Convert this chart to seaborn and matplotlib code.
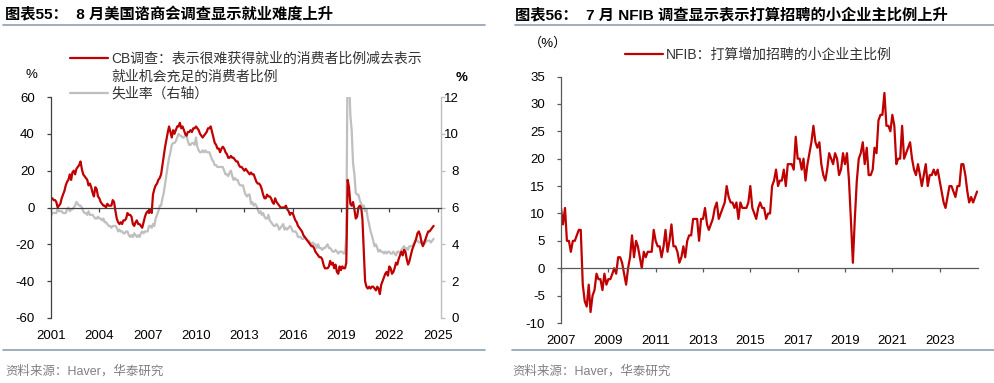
import numpy as np
import pandas as pd
import matplotlib
matplotlib.use("Agg")
import matplotlib.pyplot as plt
import matplotlib.dates as mdates
from matplotlib.lines import Line2D
import seaborn as sns

# ---------------- data ----------------
# Left chart: Conference Board labor differential (hard to get - plentiful), monthly from Nov 2001
cb_start = "2001-11-01"
cb_diff = [
    5, 5, 4, 4, 3, 0, 1, 2, 5, 7, 9, 12,
    14, 15, 18, 15, 19, 20, 18, 21, 22, 23, 25, 21,
    18, 17, 16, 15, 12, 13, 11, 8, 6, 11, 10, 6,
    5, 3, 2, 1, 1, 0, 2, 1, 1, 1, 4, 3,
    -2, -6, -8, -9, -8, -9, -7, -7, -6, -3, -4, -4,
    -5, -9, -10, -8, -7, -9, -9, -10, -11, -8, -5, -3,
    -2, -3, -1, -3, 7, 10, 12, 13, 15, 16, 18, 23,
    28, 33, 37, 41, 44, 41, 38, 42, 40, 42, 44, 44,
    46, 43, 44, 42, 40, 39, 41, 41, 42, 41, 43, 43,
    44, 43, 42, 40, 39, 38, 39, 40, 41, 43, 43, 44,
    41, 38, 35, 34, 32, 32, 30, 32, 33, 32, 30, 29,
    27, 27, 28, 27, 27, 26, 25, 25, 23, 22, 22, 21,
    20, 21, 20, 19, 18, 19, 18, 18, 16, 14, 13, 13,
    12, 10, 7, 5, 5, 7, 6, 6, 5, 3, 2, 5,
    3, 2, 1, 0, 0, 0, 0, 1, -1, -2, -4, -3,
    -3, -5, -7, -8, -10, -11, -12, -13, -15, -16, -17, -18,
    -19, -20, -21, -21, -22, -24, -25, -26, -27, -27, -28, -31,
    -33, -33, -33, -32, -29, -31, -30, -33, -31, -35, -36, -32,
    -34, -32, -33, -33, -30, 15, 11, 2, 1, 3, -1, -6,
    -5, 0, 1, 0, -6, -24, -40, -43, -44, -43, -44, -43,
    -43, -44, -45, -43, -44, -47, -42, -40, -38, -36, -35, -37,
    -32, -33, -36, -35, -33, -30, -31, -28, -26, -24, -26, -23,
    -24, -28, -31, -29, -26, -23, -21, -19, -17, -14, -13, -15,
    -19, -21, -19, -17, -15, -13, -13, -12, -11, -10,
]
# US unemployment rate (%), monthly from Nov 2001 (right axis)
unemp_rate = [
    5.5, 5.7,
    5.7, 5.7, 5.7, 5.9, 5.8, 5.8, 5.8, 5.7, 5.7, 5.7, 5.9, 6.0,
    5.8, 5.9, 5.9, 6.0, 6.1, 6.3, 6.2, 6.1, 6.1, 6.0, 5.8, 5.7,
    5.7, 5.6, 5.8, 5.6, 5.6, 5.6, 5.5, 5.4, 5.4, 5.5, 5.4, 5.4,
    5.3, 5.4, 5.2, 5.2, 5.1, 5.0, 5.0, 4.9, 5.0, 5.0, 5.0, 4.9,
    4.7, 4.8, 4.7, 4.7, 4.6, 4.6, 4.7, 4.7, 4.5, 4.4, 4.5, 4.4,
    4.6, 4.5, 4.4, 4.5, 4.4, 4.6, 4.7, 4.6, 4.7, 4.7, 4.7, 5.0,
    5.0, 4.9, 5.1, 5.0, 5.4, 5.6, 5.8, 6.1, 6.1, 6.5, 6.8, 7.3,
    7.8, 8.3, 8.7, 9.0, 9.4, 9.5, 9.5, 9.6, 9.8, 10.0, 9.9, 9.9,
    9.8, 9.8, 9.9, 9.9, 9.6, 9.4, 9.4, 9.5, 9.5, 9.4, 9.8, 9.3,
    9.1, 9.0, 9.0, 9.1, 9.0, 9.1, 9.0, 9.0, 9.0, 8.8, 8.6, 8.5,
    8.3, 8.3, 8.2, 8.2, 8.2, 8.2, 8.2, 8.0, 7.8, 7.8, 7.7, 7.9,
    8.0, 7.7, 7.5, 7.6, 7.5, 7.5, 7.3, 7.2, 7.2, 7.2, 6.9, 6.7,
    6.6, 6.7, 6.7, 6.2, 6.3, 6.1, 6.2, 6.1, 5.9, 5.7, 5.8, 5.6,
    5.7, 5.5, 5.4, 5.4, 5.6, 5.3, 5.2, 5.1, 5.0, 5.0, 5.1, 5.0,
    4.8, 4.9, 5.0, 5.1, 4.8, 4.9, 4.8, 4.9, 5.0, 4.9, 4.7, 4.7,
    4.7, 4.6, 4.4, 4.4, 4.4, 4.3, 4.3, 4.4, 4.3, 4.2, 4.2, 4.1,
    4.0, 4.1, 4.0, 4.0, 3.8, 4.0, 3.8, 3.8, 3.7, 3.8, 3.8, 3.9,
    4.0, 3.8, 3.8, 3.7, 3.6, 3.6, 3.7, 3.6, 3.5, 3.6, 3.6, 3.6,
    3.5, 3.5, 4.4, 14.8, 13.2, 11.0, 10.2, 8.4, 7.8, 6.8, 6.7, 6.7,
    6.4, 6.2, 6.1, 6.1, 5.8, 5.9, 5.4, 5.1, 4.7, 4.5, 4.2, 3.9,
    4.0, 3.8, 3.6, 3.7, 3.6, 3.6, 3.5, 3.6, 3.5, 3.6, 3.6, 3.5,
    3.5, 3.6, 3.5, 3.4, 3.6, 3.6, 3.5, 3.7, 3.8, 3.9, 3.7, 3.8,
    3.7, 3.9, 3.9, 3.9, 4.0, 4.1, 4.2, 4.2, 4.1, 4.1, 4.2, 4.1,
    4.0, 4.1, 4.2, 4.2, 4.2, 4.1, 4.2, 4.3,
]
left_tick_labels = ["2001", "2004", "2007", "2010", "2013", "2016", "2019", "2022", "2025"]
left_yticks = [-60, -40, -20, 0, 20, 40, 60]
left_y2ticks = [0, 2, 4, 6, 8, 10, 12]

# Right chart: NFIB share of small firms planning to increase hiring, monthly from Dec 2007
nfib_start = "2007-12-01"
nfib_hiring = [
    11, 8, 11, 5, 5, 3, 5, 5, 6, 7, 7, -3,
    -6, -7, -3, -8, -5, -4, -1, -2, -2, -4, -1, -3,
    -2, -2, -1, 0, -1, 2, 2, 1, -1, -3, 0, 2,
    6, 2, 5, 4, 2, 0, 3, 2, 3, 3, 3, 7,
    5, 4, 4, 2, 4, 7, 3, 5, 8, 4, 4, 3,
    1, 2, 4, 2, 5, 6, 6, 9, 9, 9, 5, 9,
    9, 11, 8, 7, 8, 9, 11, 12, 9, 10, 11, 12,
    15, 13, 12, 12, 11, 12, 9, 12, 11, 11, 11, 12,
    15, 11, 10, 9, 11, 12, 11, 11, 9, 10, 10, 15,
    16, 18, 15, 16, 16, 18, 15, 19, 19, 19, 18, 24,
    20, 20, 18, 20, 16, 19, 21, 23, 26, 23, 22, 23,
    19, 17, 16, 18, 21, 20, 19, 21, 20, 17, 18, 21,
    19, 21, 16, 9, 1, 9, 16, 20, 21, 23, 19, 22,
    17, 17, 18, 22, 21, 27, 28, 28, 32, 26, 26, 25,
    28, 26, 19, 20, 20, 26, 20, 21, 22, 23, 20, 18,
    17, 19, 17, 15, 17, 19, 15, 17, 17, 18, 17, 18,
    16, 14, 12, 11, 13, 15, 15, 14, 13, 15, 15, 19,
    19, 17, 14, 12, 13, 12, 13, 14,
]
right_tick_labels = ["2007", "2009", "2011", "2013", "2015", "2017", "2019", "2021", "2023"]
right_yticks = [-10, -5, 0, 5, 10, 15, 20, 25, 30, 35]

title_left = "图表55：  8 月美国谘商会调查显示就业难度上升"
title_right = "图表56：  7 月 NFIB 调查显示表示打算招聘的小企业主比例上升"
legend_cb_1 = "CB调查：表示很难获得就业的消费者比例减去表示"
legend_cb_2 = "就业机会充足的消费者比例"
legend_unemp = "失业率（右轴）"
legend_nfib = "NFIB：打算增加招聘的小企业主比例"
source_text = "资料来源：Haver，华泰研究"

# ---------------- style ----------------
sns.set_theme(style="white")
plt.rcParams["font.family"] = ["Liberation Sans", "Noto Sans CJK SC", "DejaVu Sans"]
plt.rcParams["axes.unicode_minus"] = False

RED = "#C00000"
GRAY = "#BFBFBF"
DARK = "#404040"
SEP = "#8FA1B3"
W, H = 995, 383

fig = plt.figure(figsize=(W / 100, H / 100), dpi=100)
fig.patch.set_facecolor("white")

# ================= LEFT CHART =================
cb_dates = pd.date_range(cb_start, periods=len(cb_diff), freq="MS")
ax1 = fig.add_axes([51 / W, 1 - 318 / H, 390 / W, 221 / H])
ax1r = ax1.twinx()

sns.lineplot(x=cb_dates, y=unemp_rate, ax=ax1r, color=GRAY, linewidth=1.6)
sns.lineplot(x=cb_dates, y=cb_diff, ax=ax1, color=RED, linewidth=1.6)
ax1.set_zorder(ax1r.get_zorder() + 1)
ax1.patch.set_visible(False)

x0 = pd.Timestamp(cb_start)
ax1.set_xlim(mdates.date2num(x0), mdates.date2num(x0 + pd.DateOffset(months=290) + pd.Timedelta(days=15)))
ax1.set_ylim(-60, 60)
ax1r.set_ylim(0, 12)
ax1.set_yticks(left_yticks)
ax1r.set_yticks(left_y2ticks)
ax1.set_xlabel("")
ax1.set_ylabel("")
ax1r.set_ylabel("")

left_ticks = mdates.date2num(pd.date_range(cb_start, periods=len(left_tick_labels), freq="36MS"))
ax1.set_xticks(left_ticks)
ax1.spines["bottom"].set_position(("data", 0))
for s in ["top", "right"]:
    ax1.spines[s].set_visible(False)
for s in ["top", "bottom", "left"]:
    ax1r.spines[s].set_visible(False)
ax1.spines["left"].set_color(DARK)
ax1.spines["left"].set_linewidth(0.9)
ax1.spines["bottom"].set_color(DARK)
ax1.spines["bottom"].set_linewidth(0.9)
ax1r.spines["right"].set_color(GRAY)
ax1r.spines["right"].set_linewidth(1.0)

ax1.tick_params(axis="x", direction="out", length=3, width=0.9, color=DARK,
                bottom=True, labelbottom=False)
ax1.tick_params(axis="y", direction="out", length=3, width=0.9, color=DARK,
                left=True, labelsize=9.5, labelcolor="black", pad=8.6)
ax1r.tick_params(axis="y", direction="out", length=3, width=1.0, color=GRAY,
                 right=True, labelsize=9.5, labelcolor="black", pad=9.9)
for lab in ax1r.get_yticklabels():
    lab.set_horizontalalignment("right")

sec1 = ax1.secondary_xaxis("bottom")
sec1.set_xticks(left_ticks, labels=left_tick_labels)
sec1.tick_params(length=0, labelsize=9.5, labelcolor="black", pad=8.6)
sec1.spines["bottom"].set_visible(False)

ax1.legend(
    handles=[Line2D([], [], color=RED, lw=1.6), Line2D([], [], color="none"),
             Line2D([], [], color=GRAY, lw=1.6)],
    labels=[legend_cb_1, legend_cb_2, legend_unemp],
    loc="upper left", bbox_to_anchor=(70 / W, 1 - 52 / H), bbox_transform=fig.transFigure,
    frameon=False, fontsize=10, handlelength=2.75, handletextpad=0.2,
    labelspacing=0.25, borderpad=0, borderaxespad=0, labelcolor="#333333",
)

fig.text(31 / W, 1 - 75 / H, "%", ha="center", va="center", fontsize=9.5, color="black")
fig.text(462 / W, 1 - 78 / H, "%", ha="center", va="center", fontsize=9.5,
         fontweight="bold", color="black")

# ================= RIGHT CHART =================
nfib_dates = pd.date_range(nfib_start, periods=len(nfib_hiring), freq="MS")
ax2 = fig.add_axes([561 / W, 1 - 323 / H, 417.3 / W, 246.5 / H])
ax2.patch.set_visible(False)
sns.lineplot(x=nfib_dates, y=nfib_hiring, ax=ax2, color=RED, linewidth=1.6)
n0 = pd.Timestamp(nfib_start)
ax2.set_xlim(mdates.date2num(n0), mdates.date2num(n0 + pd.DateOffset(months=211) + pd.Timedelta(days=19)))
ax2.set_ylim(-10, 35)
ax2.set_yticks(right_yticks)
ax2.set_xlabel("")
ax2.set_ylabel("")
right_ticks = mdates.date2num(pd.date_range(nfib_start, periods=len(right_tick_labels), freq="24MS"))
ax2.set_xticks(right_ticks)
ax2.spines["bottom"].set_position(("data", 0))
for s in ["top", "right"]:
    ax2.spines[s].set_visible(False)
for s in ["left", "bottom"]:
    ax2.spines[s].set_color("#595959")
    ax2.spines[s].set_linewidth(0.9)
ax2.tick_params(axis="x", direction="out", length=3, width=0.9, color="#595959",
                bottom=True, labelbottom=False)
ax2.tick_params(axis="y", direction="out", length=3, width=0.9, color="#595959",
                left=True, labelsize=9.5, labelcolor="black", pad=8.6)
sec2 = ax2.secondary_xaxis("bottom")
sec2.set_xticks(right_ticks, labels=right_tick_labels)
sec2.tick_params(length=0, labelsize=9.5, labelcolor="black", pad=8.4)
sec2.spines["bottom"].set_visible(False)

ax2.legend(
    handles=[Line2D([], [], color=RED, lw=1.6)], labels=[legend_nfib],
    loc="upper left", bbox_to_anchor=(625 / W, 1 - 48 / H), bbox_transform=fig.transFigure,
    frameon=False, fontsize=10, handlelength=2.75, handletextpad=0.2,
    borderpad=0, borderaxespad=0, labelcolor="#333333",
)
fig.text(548 / W, 1 - 43 / H, "（%）", ha="center", va="center", fontsize=9.5, color="black")

# ================= titles, separators, sources =================
fig.text(5 / W, 1 - 15 / H, title_left, ha="left", va="center", fontsize=11,
         fontweight="bold", color="black")
fig.text(515 / W, 1 - 15 / H, title_right, ha="left", va="center", fontsize=11,
         fontweight="bold", color="black")
for (xa, xb) in [(3, 485), (515, 995)]:
    fig.add_artist(Line2D([xa / W, xb / W], [1 - 25 / H, 1 - 25 / H], transform=fig.transFigure,
                          color=SEP, lw=1.2))
for (xa, xb) in [(3, 485), (512, 995)]:
    fig.add_artist(Line2D([xa / W, xb / W], [1 - 350 / H, 1 - 350 / H], transform=fig.transFigure,
                          color=SEP, lw=1.2))
fig.text(5 / W, 1 - 371 / H, source_text, ha="left", va="center", fontsize=9, color="#808080")
fig.text(512 / W, 1 - 371 / H, source_text, ha="left", va="center", fontsize=9, color="#808080")

fig.savefig("out.png", dpi=100, facecolor="white")
